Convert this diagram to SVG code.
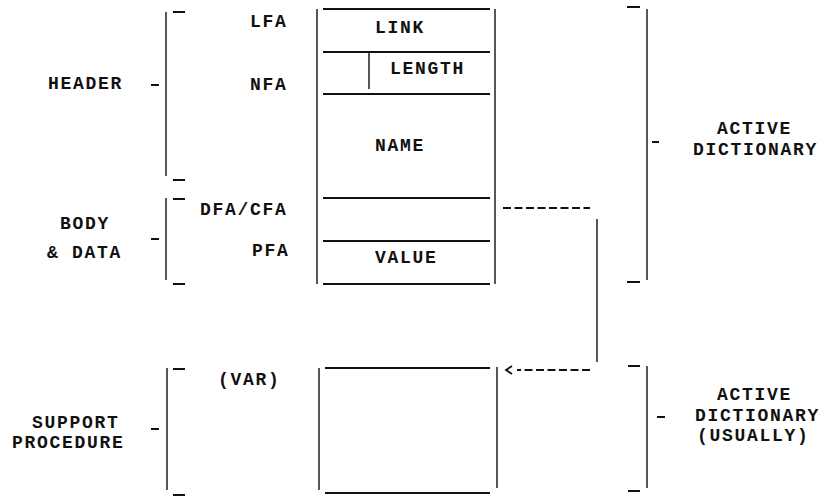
<svg xmlns="http://www.w3.org/2000/svg" width="824" height="496" viewBox="0 0 824 496">
<style>
text{font-family:"Liberation Mono","Courier New",monospace;font-weight:bold;font-size:18px;letter-spacing:1.7px;fill:#111}
.h{stroke:#111;stroke-width:2;fill:none}
.v{stroke:#111;stroke-width:1.4;fill:none}
.t{stroke:#111;stroke-width:1.8;fill:none}
.d{stroke:#111;stroke-width:2;fill:none;stroke-dasharray:8 3.5}
</style>
<rect width="824" height="496" fill="#fff"/>

<g id="header-bracket">
<path class="v" d="M166 12V176"/>
<path class="t" d="M173 12H185M173 180H185M151 85H159"/>
<text x="48" y="89">HEADER</text>
</g>

<g id="body-bracket">
<path class="v" d="M166 198V280"/>
<path class="t" d="M173 199H185M173 284H185M151 239H159"/>
<text x="60" y="229">BODY</text>
<text x="47" y="258">&amp; DATA</text>
</g>

<g id="support-bracket">
<path class="v" d="M167 368V490"/>
<path class="t" d="M173 369H185M173 495H185M151 429H159"/>
<text x="32" y="428">SUPPORT</text>
<text x="12" y="448">PROCEDURE</text>
</g>

<g id="field-labels">
<text x="250" y="27">LFA</text>
<text x="250" y="90">NFA</text>
<text x="200" y="215">DFA/CFA</text>
<text x="252" y="256">PFA</text>
<text x="218" y="385">(VAR)</text>
</g>

<g id="header-record">
<path class="v" d="M317 9V284M495 9V284M369 53V89"/>
<path class="h" d="M323 9H490M323 52H490M323 94H490M323 198H490M323 241H490M323 284H490"/>
<text x="375" y="33">LINK</text>
<text x="390" y="74">LENGTH</text>
<text x="375" y="151">NAME</text>
<text x="375" y="263">VALUE</text>
</g>

<g id="support-record">
<path class="v" d="M319 368V490M497 367V488"/>
<path class="h" d="M325 368H490M325 493H490"/>
</g>

<g id="active-bracket">
<path class="v" d="M647 9V280"/>
<path class="t" d="M627 7H640M627 282H640M652 142H659"/>
<text x="717" y="134">ACTIVE</text>
<text x="693" y="155">DICTIONARY</text>
</g>

<g id="usually-bracket">
<path class="v" d="M647 366V488"/>
<path class="t" d="M628 366H640M628 491H640M657 417H665"/>
<text x="717" y="400">ACTIVE</text>
<text x="695" y="421">DICTIONARY</text>
<text x="697" y="441">(USUALLY)</text>
</g>

<g id="connectors">
<path class="d" d="M503 208H590"/>
<path class="v" d="M597 219V362"/>
<path class="d" d="M590 370H517"/>
<path class="t" d="M512 366L506 370L512 374"/>
</g>
</svg>
